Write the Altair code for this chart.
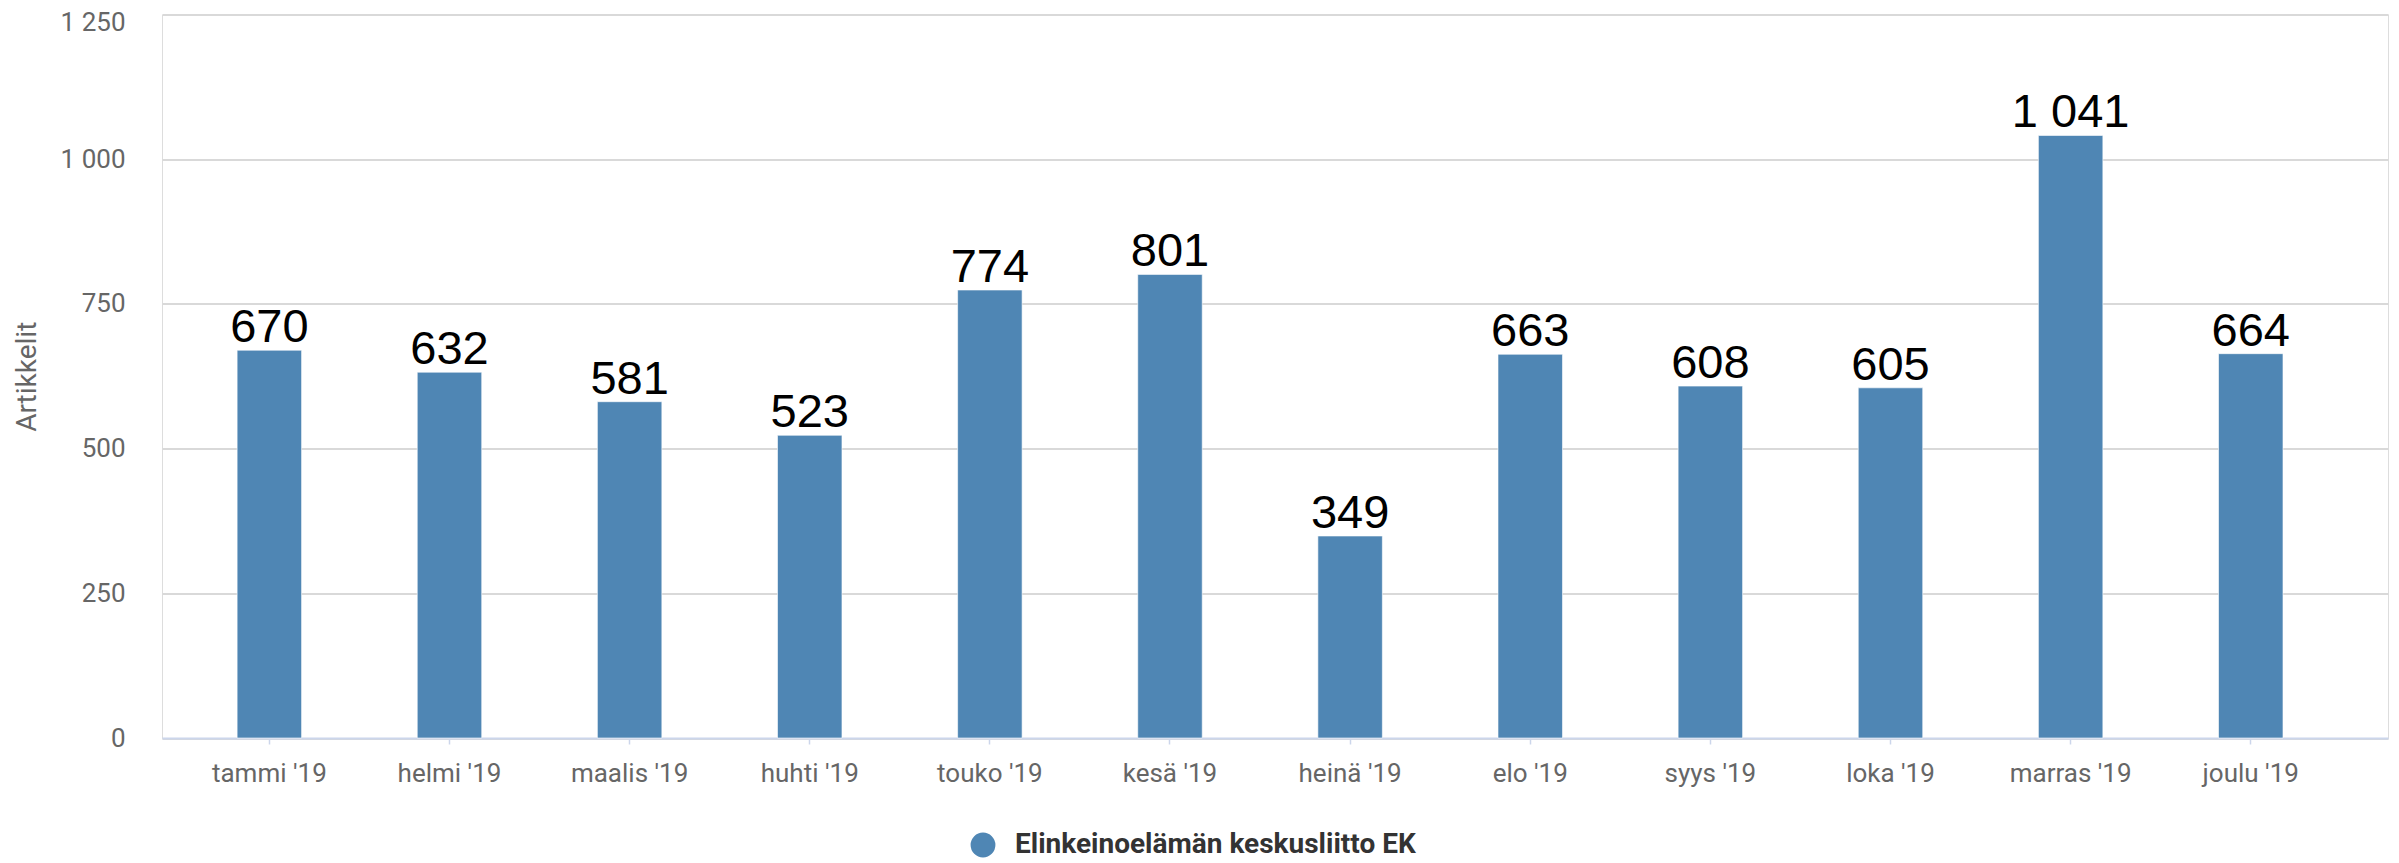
import altair as alt
import pandas as pd

months = ["tammi '19", "helmi '19", "maalis '19", "huhti '19", "touko '19", "kesä '19",
          "heinä '19", "elo '19", "syys '19", "loka '19", "marras '19", "joulu '19"]
values = [670, 632, 581, 523, 774, 801, 349, 663, 608, 605, 1041, 664]
series_name = "Elinkeinoelämän keskusliitto EK"
y_ticks = [0, 250, 500, 750, 1000, 1250]

df = pd.DataFrame({"month": months, "value": values, "series": [series_name] * len(months)})

BAR = "#4f86b4"
W = 2226
H = 723.5

x_enc = alt.X(
    "month:N",
    sort=months,
    scale=alt.Scale(paddingInner=0.642, paddingOuter=0.5, align=0.417),
    axis=alt.Axis(
        title=None,
        labelAngle=0,
        labelFont="Roboto",
        labelFontSize=26,
        labelColor="#666666",
        labelBaseline="alphabetic",
        labelPadding=37,
        tickSize=6,
        tickColor="#ccd6eb",
        tickWidth=1.5,
        domainColor="#ccd6eb",
        domainWidth=2,
        grid=False,
    ),
)

y_enc = alt.Y(
    "value:Q",
    scale=alt.Scale(domain=[0, 1250], nice=False),
    axis=alt.Axis(
        title="Artikkelit",
        titleFont="Roboto",
        titleFontSize=28,
        titleFontWeight="normal",
        titleColor="#666666",
        titleAngle=-90,
        titleAlign="center",
        titleBaseline="middle",
        titleX=-135,
        titleY=H / 2,
        values=y_ticks,
        labelExpr="replace(format(datum.value, ','), ',', ' ')",
        labelFont="Roboto",
        labelFontSize=26,
        labelColor="#666666",
        labelPadding=37,
        labelOffset={"condition": {"test": "datum.value == 1250", "value": 8}, "value": 0},
        ticks=False,
        domain=False,
        grid=True,
        gridColor="#d9d9d9",
        gridWidth=2,
    ),
)

bars = alt.Chart(df).mark_bar(stroke="white", strokeWidth=1, strokeOpacity=0.6).encode(
    x=x_enc,
    y=y_enc,
    color=alt.Color(
        "series:N",
        scale=alt.Scale(range=[BAR]),
        legend=alt.Legend(
            title=None,
            orient="none",
            legendX=807,
            legendY=816.5,
            symbolType="circle",
            symbolSize=616,
            symbolStrokeWidth=0,
            symbolOpacity=1,
            labelFont="Roboto",
            labelFontSize=28,
            labelFontWeight="bold",
            labelColor="#333333",
            labelOffset=18,
            labelLimit=0,
            padding=0,
        ),
    ),
)

labels = alt.Chart(df).transform_calculate(
    lab="replace(format(datum.value, ','), ',', ' ')"
).mark_text(
    font="Liberation Sans", fontSize=47, color="black", baseline="alphabetic", dy=-8
).encode(
    x=alt.X("month:N", sort=months),
    y=alt.Y("value:Q"),
    text="lab:N",
)

chart = alt.layer(bars, labels).properties(
    width=W,
    height=H,
    autosize=alt.AutoSizeParams(type="none"),
    padding={"left": 154, "top": 6.5, "right": 2, "bottom": 121},
).configure_view(stroke=None).configure(background="white")

chart.save("out.html", embed_options={"renderer": "svg", "actions": False})
